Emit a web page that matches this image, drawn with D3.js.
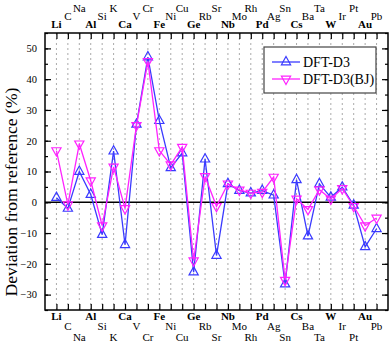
<!DOCTYPE html>
<html>
<head>
<meta charset="utf-8">
<script src="https://cdn.jsdelivr.net/npm/d3@7"></script>
</head>
<body style="margin:0; background:#fff">
<div id="chart"></div>
<script>
// Elements along the x axis
const elements = ["Li", "C", "Na", "Al", "Si", "K", "Ca", "V", "Cr", "Fe", "Ni", "Cu", "Ge", "Rb", "Sr",
  "Nb", "Mo", "Rh", "Pd", "Ag", "Sn", "Cs", "Ba", "Ta", "W", "Ir", "Pt", "Au", "Pb"]

// Deviation from reference (%)
const dftD3 = [1.5, -2, 10, 2.5, -10.5, 16.6, -13.8, 25.3, 47.2, 26.5, 11.2, 16, -22.7, 14, -17.3,
  6, 3.8, 3, 3.8, 2.3, -26.6, 7.3, -11, 6, 1.6, 4.9, -1, -14.5, -8.6]
const dftD3BJ = [16.8, -0.8, 19, 7, -7.6, 11.5, -2, 25, 45.8, 16.8, 12.2, 17.9, -19, 8.4, -1.3,
  6, 4, 3, 3.3, 8.2, -25.3, 1.1, -2.3, 4.1, 1.1, 4.5, -1.3, -7.6, -5.1]

const yTicks = [-30, -20, -10, 0, 10, 20, 30, 40, 50]
const seriesNames = ["DFT-D3", "DFT-D3(BJ)"]

const FONT = "Liberation Serif"
const width = 390
const height = 344
const margin = { top: 33, right: 2, bottom: 34, left: 45 }

const svg = d3.select("#chart")
  .append("svg")
  .attr("width", width)
  .attr("height", height)
  .style("display", "block")
  .style("font-family", FONT)

const x = d3.scaleLinear()
  .domain([-1, elements.length])
  .range([margin.left, width - margin.right])

const y = d3.scaleLinear()
  .domain([-35, 55])
  .range([height - margin.bottom, margin.top])

const x0 = margin.left, x1 = width - margin.right
const y0 = height - margin.bottom, y1 = margin.top

// dotted vertical grid lines
svg.append("g")
  .selectAll("line")
  .data(elements)
  .enter()
  .append("line")
  .attr("x1", (d, i) => x(i))
  .attr("x2", (d, i) => x(i))
  .attr("y1", y1)
  .attr("y2", y0)
  .style("stroke", "#aaa")
  .style("stroke-width", 1)
  .style("stroke-dasharray", "2,3")

// zero line
svg.append("line")
  .attr("x1", x0).attr("x2", x1)
  .attr("y1", y(0)).attr("y2", y(0))
  .style("stroke", "#000")
  .style("stroke-width", 1.5)

// axes: ticks pointing inward
const idx = d3.range(elements.length)
const minorY = d3.range(-35, 56, 5)

function styleAxis(g) {
  g.attr("font-family", FONT)
  g.select(".domain").remove()
  g.selectAll(".tick line").style("stroke", "#000").style("stroke-width", 1.2)
}

svg.append("g")
  .attr("transform", `translate(0,${y1})`)
  .call(d3.axisTop(x).tickValues(idx).tickSize(-6).tickFormat(""))
  .call(styleAxis)

svg.append("g")
  .attr("transform", `translate(0,${y0})`)
  .call(d3.axisBottom(x).tickValues(idx).tickSize(-6).tickFormat(""))
  .call(styleAxis)

// minor y ticks
svg.append("g")
  .attr("transform", `translate(${x0},0)`)
  .call(d3.axisLeft(y).tickValues(minorY).tickSize(-3).tickFormat(""))
  .call(styleAxis)
svg.append("g")
  .attr("transform", `translate(${x1},0)`)
  .call(d3.axisRight(y).tickValues(minorY).tickSize(-3).tickFormat(""))
  .call(styleAxis)

// major y ticks
svg.append("g")
  .attr("transform", `translate(${x0},0)`)
  .call(d3.axisLeft(y).tickValues(yTicks).tickSize(-6).tickPadding(8).tickFormat(d3.format("d")))
  .call(styleAxis)
  .call((g) => g.selectAll("text")
    .style("font-family", FONT)
    .style("font-size", "10.5px")
    .style("fill", "#000"))
svg.append("g")
  .attr("transform", `translate(${x1},0)`)
  .call(d3.axisRight(y).tickValues(yTicks).tickSize(-6).tickFormat(""))
  .call(styleAxis)

// frame
svg.append("rect")
  .attr("x", x0).attr("y", y1)
  .attr("width", x1 - x0).attr("height", y0 - y1)
  .style("fill", "none")
  .style("stroke", "#000")
  .style("stroke-width", 1.5)

// element labels, staggered in three rows top and bottom
const topRows = [28, 20, 12]
const bottomRows = [320, 330, 341]
const labelGroup = svg.append("g")
labelGroup.selectAll("text.top")
  .data(elements)
  .enter()
  .append("text")
  .attr("class", "top")
  .attr("x", (d, i) => x(i))
  .attr("y", (d, i) => topRows[i % 3])
  .attr("text-anchor", "middle")
  .style("font-family", FONT)
  .style("font-size", "11px")
  .style("font-weight", (d, i) => (i % 3 === 0 ? "bold" : "normal"))
  .text((d) => d)
labelGroup.selectAll("text.bottom")
  .data(elements)
  .enter()
  .append("text")
  .attr("class", "bottom")
  .attr("x", (d, i) => x(i))
  .attr("y", (d, i) => bottomRows[i % 3])
  .attr("text-anchor", "middle")
  .style("font-family", FONT)
  .style("font-size", "11px")
  .style("font-weight", (d, i) => (i % 3 === 0 ? "bold" : "normal"))
  .text((d) => d)

// y axis title, sized so it spans about 209px like the original
const title = svg.append("text")
  .attr("transform", "translate(17,192) rotate(-90)")
  .attr("text-anchor", "middle")
  .style("font-family", FONT)
  .style("font-size", "17.6px")
  .text("Deviation from reference (%)")
const titleLen = title.node().getComputedTextLength()
if (titleLen > 0) title.style("font-size", (17.6 * 209 / titleLen).toFixed(2) + "px")

// series
const series = [
  { name: seriesNames[0], values: dftD3, color: "#3a3aff", up: true },
  { name: seriesNames[1], values: dftD3BJ, color: "#ff22ff", up: false }
]

const tri = (up) => (up ? "M0,-5.5L4.6,2.8L-4.6,2.8Z" : "M0,5.5L4.6,-2.8L-4.6,-2.8Z")

const line = d3.line()
  .x((d, i) => x(i))
  .y((d) => y(d))

series.forEach((s) => {
  svg.append("path")
    .datum(s.values)
    .attr("d", line)
    .style("fill", "none")
    .style("stroke", s.color)
    .style("stroke-width", 1.3)

  svg.append("g")
    .selectAll("path")
    .data(s.values)
    .enter()
    .append("path")
    .attr("transform", (d, i) => `translate(${x(i)},${y(d)})`)
    .attr("d", tri(s.up))
    .style("fill", "none")
    .style("stroke", s.color)
    .style("stroke-width", 1.2)
})

// legend
const legend = svg.append("g").attr("transform", "translate(264,47)")
legend.append("rect")
  .attr("width", 112)
  .attr("height", 46)
  .style("fill", "#fff")
  .style("stroke", "#444")
  .style("stroke-width", 1.2)

series.forEach((s, i) => {
  const row = legend.append("g").attr("transform", `translate(0,${15 + i * 17})`)
  row.append("line")
    .attr("x1", 8).attr("x2", 36)
    .style("stroke", s.color)
    .style("stroke-width", 1.3)
  row.append("path")
    .attr("transform", "translate(22,0)")
    .attr("d", tri(s.up))
    .style("fill", "none")
    .style("stroke", s.color)
    .style("stroke-width", 1.2)
  row.append("text")
    .attr("x", 39)
    .attr("y", 5)
    .style("font-family", FONT)
    .style("font-size", "14px")
    .text(s.name)
})
</script>
</body>
</html>
